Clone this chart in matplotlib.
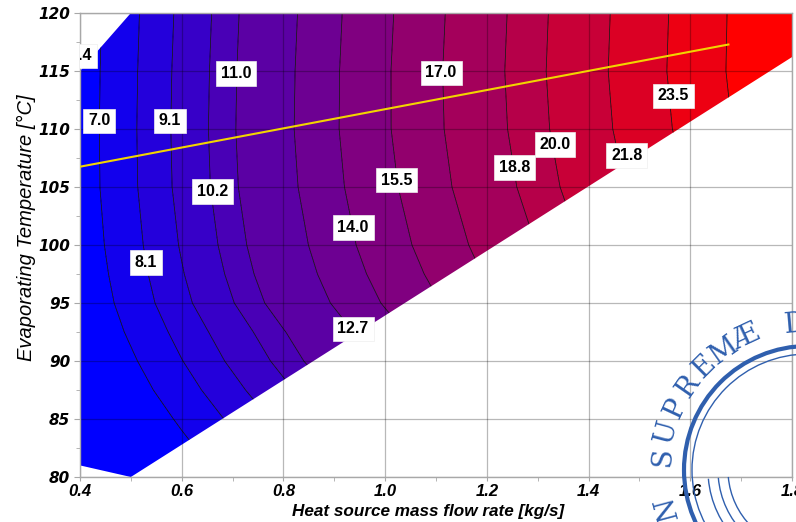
import numpy as np
import matplotlib
matplotlib.use("Agg")
import matplotlib.pyplot as plt
from matplotlib.patches import Polygon, Circle, Arc

# ---------------- data ----------------
mass_flow = [0.4, 0.6, 0.8, 1.0, 1.2, 1.4, 1.6, 1.8]
evap_temp = [80, 82.5, 85, 87.5, 90, 92.5, 95, 97.5, 100, 105, 110, 115, 120]
# contoured quantity, one row per evaporating temperature
power = [
    [4.24, 6.16, 8.05, 9.91, 11.75, 13.55, 15.32, 17.07],   # 80
    [4.62, 6.72, 8.79, 10.83, 12.84, 14.82, 16.77, 18.69],  # 82.5
    [4.97, 7.18, 9.40, 11.59, 13.75, 15.88, 17.98, 20.05],  # 85
    [5.32, 7.65, 9.96, 12.28, 14.57, 16.83, 19.06, 21.27],  # 87.5
    [5.61, 8.07, 10.51, 12.96, 15.39, 17.78, 20.15, 22.49], # 90
    [5.89, 8.44, 10.94, 13.50, 16.03, 18.52, 20.99, 23.43], # 92.5
    [6.08, 8.82, 11.49, 14.11, 16.66, 19.27, 21.84, 24.38], # 95
    [6.21, 9.03, 11.80, 14.49, 17.12, 19.79, 22.44, 25.06], # 97.5
    [6.31, 9.19, 12.02, 14.79, 17.48, 20.22, 22.92, 25.60], # 100
    [6.42, 9.38, 12.29, 15.14, 17.97, 20.79, 23.60, 26.41], # 105
    [6.43, 9.42, 12.39, 15.33, 18.21, 21.11, 24.01, 26.90], # 110
    [6.41, 9.39, 12.36, 15.33, 18.28, 21.23, 24.18, 27.09], # 115
    [6.37, 9.33, 12.29, 15.25, 18.21, 21.17, 24.13, 27.09], # 120
]
levels = [7.0, 8.1, 9.1, 10.2, 11.0, 12.7, 14.0, 15.5, 17.0, 18.8, 20.0, 21.8, 23.5, 25.2]

label_text = ["6.4", "7.0", "8.1", "9.1", "10.2", "11.0", "12.7", "14.0",
              "15.5", "17.0", "18.8", "20.0", "21.8", "23.5"]
label_x = [0.401, 0.438, 0.530, 0.577, 0.660, 0.707, 0.937, 0.937,
           1.023, 1.110, 1.254, 1.334, 1.475, 1.567]
label_y = [116.3, 110.7, 98.5, 110.7, 104.6, 114.8, 92.76, 101.5,
           105.6, 114.83, 106.7, 108.66, 107.7, 112.86]

# feasible domain outline
domain_x = [0.4, 0.5, 1.8, 1.8, 0.5, 0.4]
domain_y = [81.0, 80.0, 116.2, 120.0, 120.0, 115.0]

# yellow line
opt_x = [0.4, 1.677]
opt_y = [106.75, 117.3]

xticks = [0.4, 0.6, 0.8, 1.0, 1.2, 1.4, 1.6, 1.8]
yticks = [80, 85, 90, 95, 100, 105, 110, 115, 120]

# ---------------- figure ----------------
W, H = 796, 522
fig = plt.figure(figsize=(W / 100, H / 100), dpi=100)
ax = fig.add_axes([80 / W, 45 / H, 712 / W, 464 / H])

X, Y = np.meshgrid(mass_flow, evap_temp)
Z = np.array(power)

bounds = [-100.0] + levels + [100.0]
n = len(bounds) - 1
band_colors = [(i / (n - 1), 0.0, 1.0 - i / (n - 1)) for i in range(n)]

cf = ax.contourf(X, Y, Z, levels=bounds, colors=band_colors, antialiased=True)
cs = ax.contour(X, Y, Z, levels=levels, colors="black", linewidths=0.5)

clip = Polygon(np.column_stack([domain_x, domain_y]), closed=True,
               transform=ax.transData, facecolor="none", edgecolor="none")
cf.set_clip_path(clip)
cs.set_clip_path(clip)

ax.plot(opt_x, opt_y, color="#f2d400", lw=1.5, zorder=4, solid_capstyle="butt")

for t, lx, ly in zip(label_text, label_x, label_y):
    ax.text(lx, ly, t, ha="center", va="center", fontsize=11.5, fontweight="bold",
            family="Liberation Sans", color="black", zorder=6, clip_on=True,
            bbox=dict(boxstyle="square,pad=0.3", facecolor="white",
                      edgecolor="#eeeeee", linewidth=0.5))

ax.set_xlim(0.4, 1.8)
ax.set_ylim(80, 120)
ax.set_xticks(xticks)
ax.set_xticklabels([f"{v:.1f}" for v in xticks])
ax.set_yticks(yticks)
ax.set_xticks(np.arange(0.5, 1.8, 0.2), minor=True)
ax.set_yticks(np.arange(82.5, 120, 5), minor=True)

ax.grid(True, which="major", color="black", alpha=0.28, lw=0.9)
ax.set_axisbelow("line")
for s in ax.spines.values():
    s.set_color("#a8a8a8")
    s.set_linewidth(1.0)
ax.tick_params(which="both", direction="out", color="#a8a8a8")
ax.tick_params(axis="y", which="major", length=4, pad=3)
ax.tick_params(axis="y", which="minor", length=3)
ax.tick_params(axis="x", which="major", length=3, pad=2)
ax.tick_params(axis="x", which="minor", length=3)
for lab in ax.get_xticklabels():
    lab.set_family("Liberation Sans")
    lab.set_fontweight("bold")
    lab.set_fontstyle("italic")
    lab.set_fontsize(12)
for lab in ax.get_yticklabels():
    lab.set_family("DejaVu Sans")
    lab.set_fontweight("bold")
    lab.set_fontstyle("oblique")
    lab.set_fontsize(11)

ax.set_xlabel("Heat source mass flow rate [kg/s]", family="Liberation Sans",
              fontweight="bold", fontstyle="italic", fontsize=12.3)
ax.xaxis.set_label_coords(0.489, -0.058)
ax.set_ylabel("Evaporating Temperature [°C]", family="Liberation Sans",
              fontstyle="italic", fontsize=14.5)
ax.yaxis.set_label_coords(-0.062, 0.537)

# ---------------- seal watermark (approximation) ----------------
ov = fig.add_axes([0, 0, 1, 1], zorder=10)
ov.set_xlim(0, W)
ov.set_ylim(H, 0)
ov.axis("off")
ov.patch.set_alpha(0)
seal = "#2f5fae"
cx, cy = 808, 470
ov.add_patch(Circle((cx, cy), 124, fill=False, ec=seal, lw=3.0))
ov.add_patch(Circle((cx, cy), 116, fill=False, ec=seal, lw=1.0))
for r in (100, 90, 80):
    ov.add_patch(Arc((cx, cy), 2 * r, 2 * r, theta1=95, theta2=175, ec=seal, lw=1.0))
letters = "IN SUPREMÆ DIGNITATIS"
angle = 205.0
for ch in letters:
    if ch != " ":
        a = np.deg2rad(angle)
        px = cx + 146 * np.cos(a)
        py = cy - 146 * np.sin(a)
        ov.text(px, py, ch, ha="center", va="center", rotation=angle - 90,
                fontsize=20, color=seal, family="DejaVu Serif")
    angle -= 10.0

fig.savefig("out.png", dpi=100)
